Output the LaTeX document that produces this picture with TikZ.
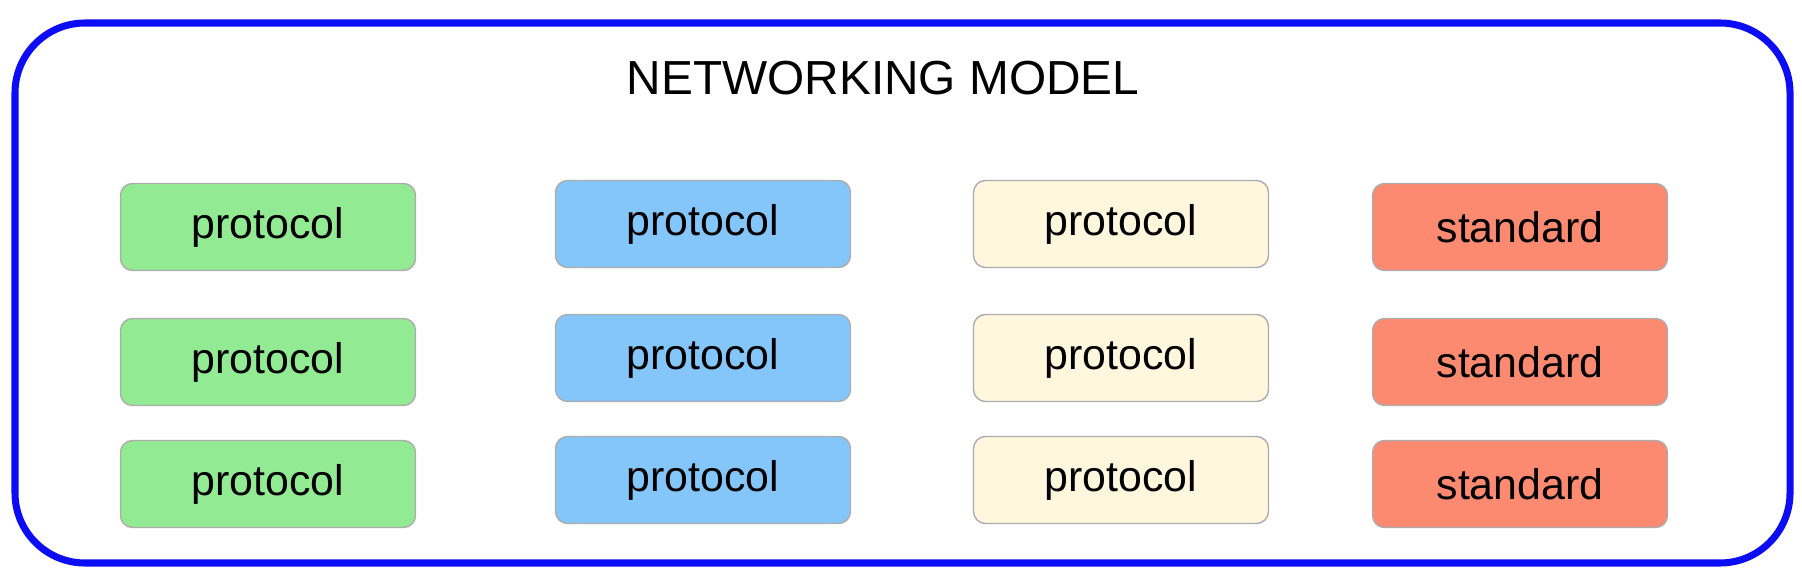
\documentclass[tikz,border=0pt]{standalone}
\usepackage{fontspec}
\setmainfont{Liberation Sans}
\usepackage{tikz}
\usetikzlibrary{positioning}
\definecolor{FrameBlue}{RGB}{12,12,245}
\definecolor{LayerGreen}{RGB}{146,234,146}
\definecolor{LayerBlue}{RGB}{132,198,250}
\definecolor{LayerCream}{RGB}{255,246,222}
\definecolor{LayerRed}{RGB}{252,138,112}

\begin{document}
\begin{tikzpicture}[font=\fontsize{12.2}{14}\selectfont,
  layerbox/.style={draw=gray!65,rounded corners=0.12cm,minimum width=2.95cm,minimum height=0.87cm,inner sep=0pt}]
\useasboundingbox (0,0) rectangle (18.02,-5.87);
\draw[FrameBlue,line width=2pt,rounded corners=0.7cm] (0.15,-0.23) rectangle (17.90,-5.63);
\node (title) at (8.83,-0.78){\fontsize{13.6}{16}\selectfont NETWORKING MODEL};
% first column
\node[layerbox,fill=LayerGreen] (green1) at (2.68,-2.27){protocol};
\node[layerbox,fill=LayerGreen] (green2) at (2.68,-3.62){protocol};
\node[layerbox,fill=LayerGreen] (green3) at (2.68,-4.84){protocol};
% second column
\node[layerbox,fill=LayerBlue] (blue1) at (7.03,-2.24){protocol};
\node[layerbox,fill=LayerBlue] (blue2) at (7.03,-3.58){protocol};
\node[layerbox,fill=LayerBlue] (blue3) at (7.03,-4.80){protocol};
% third column
\node[layerbox,fill=LayerCream] (cream1) at (11.21,-2.24){protocol};
\node[layerbox,fill=LayerCream] (cream2) at (11.21,-3.58){protocol};
\node[layerbox,fill=LayerCream] (cream3) at (11.21,-4.80){protocol};
% fourth column
\node[layerbox,fill=LayerRed] (std1) at (15.20,-2.27){standard};
\node[layerbox,fill=LayerRed] (std2) at (15.20,-3.62){standard};
\node[layerbox,fill=LayerRed] (std3) at (15.20,-4.84){standard};
\end{tikzpicture}
\end{document}
